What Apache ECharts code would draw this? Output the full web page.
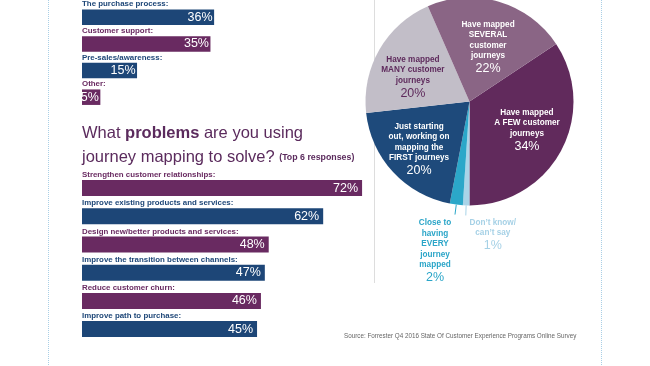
<!DOCTYPE html>
<html>
<head>
<meta charset="utf-8">
<script src="https://cdn.jsdelivr.net/npm/echarts@6/dist/echarts.min.js"></script>
<style>
html,body{margin:0;padding:0;background:#fff;}
#c{width:650px;height:366px;}
</style>
</head>
<body>
<div id="c"></div>
<script>
// ---- data ----
var topCategories = ['The purchase process:', 'Customer support:', 'Pre-sales/awareness:', 'Other:'];
var topValues = [36, 35, 15, 5];
var problemCategories = ['Strengthen customer relationships:', 'Improve existing products and services:', 'Design new/better products and services:', 'Improve the transition between channels:', 'Reduce customer churn:', 'Improve path to purchase:'];
var problemValues = [72, 62, 48, 47, 46, 45];
var pieNames = ['Have mapped\nA FEW customer\njourneys', 'Don\u2019t know/\ncan\u2019t say', 'Close to\nhaving\nEVERY\njourney\nmapped', 'Just starting\nout, working on\nmapping the\nFIRST journeys', 'Have mapped\nMANY customer\njourneys', 'Have mapped\nSEVERAL\ncustomer\njourneys'];
var pieValues = [34, 1, 2, 20, 20, 22];
var titleLine1 = ['What ', 'problems', ' are you using'];
var titleLine2 = ['journey mapping to solve? ', '(Top 6 responses)'];
var sourceText = 'Source: Forrester Q4 2016 State Of Customer Experience Programs Online Survey';

// ---- styles ----
var NAVY = '#1d4677', PURPLE = '#692a61';
var FONT = "'Liberation Sans',Arial,sans-serif";
var pieColors = ['#612a5c', '#a9d4e8', '#2ba7c9', '#1e4a7b', '#c2bec8', '#8a6585'];
var pieTextColors = ['#ffffff', '#a6d1e6', '#2aa5c8', '#ffffff', '#5e2a5c', '#ffffff'];
var pieOutside = [false, true, true, false, false, false];
var pieLabelOffsets = [[9, 3], [27, 2], [-20, 3], [-10, 11], [-9, 3.5], [3, -1]];

function barColor(startNavy) {
  return function (p) { return (p.dataIndex % 2 === 0) === startNavy ? NAVY : PURPLE; };
}
function labelColor(startNavy) {
  return function (v, i) { return (i % 2 === 0) === startNavy ? NAVY : PURPLE; };
}

var pieData = pieNames.map(function (n, i) {
  var d = {
    name: n, value: pieValues[i],
    itemStyle: { color: pieColors[i] },
    label: { color: pieTextColors[i] }
  };
  if (pieOutside[i]) {
    d.label.position = 'outside';
    d.labelLine = { show: true, length: 10, length2: 0, lineStyle: { color: pieColors[i], width: 1 } };
  }
  return d;
});

var chart = echarts.init(document.getElementById('c'), null, { renderer: 'canvas' });
chart.setOption({
  animation: false,
  backgroundColor: '#ffffff',
  title: [{
    left: 82, top: 121.5, padding: 0,
    text: '{a|' + titleLine1[0] + '}{b|' + titleLine1[1] + '}{a|' + titleLine1[2] + '}\n{a|' + titleLine2[0] + '}{s|' + titleLine2[1] + '}',
    textStyle: {
      fontWeight: 'normal',
      rich: {
        a: { fontFamily: FONT, fontSize: 16.5, fontWeight: 'normal', color: '#5b2b5d', lineHeight: 24 },
        b: { fontFamily: FONT, fontSize: 16.5, fontWeight: 'bold', color: '#5b2b5d', lineHeight: 24 },
        s: { fontFamily: FONT, fontSize: 8.8, fontWeight: 'bold', color: '#5b2b5d', lineHeight: 24, verticalAlign: 'middle' }
      }
    }
  }, {
    left: 344, top: 333, padding: 0,
    text: sourceText,
    textStyle: { fontFamily: FONT, fontSize: 6.3, fontWeight: 'normal', color: '#666666' }
  }],
  graphic: [
    { type: 'line', shape: { x1: 48.5, y1: 0, x2: 48.5, y2: 366 }, style: { stroke: '#a9cfe6', lineWidth: 1, lineDash: [1, 1] }, silent: true },
    { type: 'line', shape: { x1: 601.5, y1: 0, x2: 601.5, y2: 366 }, style: { stroke: '#a9cfe6', lineWidth: 1, lineDash: [1, 1] }, silent: true },
    { type: 'line', shape: { x1: 374.5, y1: 0, x2: 374.5, y2: 283 }, style: { stroke: '#dddddd', lineWidth: 1 }, silent: true }
  ],
  grid: [
    { left: 82, top: -1.5, width: 367, height: 112 },
    { left: 82, top: 174, width: 389, height: 169.2 }
  ],
  xAxis: [
    { gridIndex: 0, type: 'value', min: 0, max: 100, show: false },
    { gridIndex: 1, type: 'value', min: 0, max: 100, show: false }
  ],
  yAxis: [0, 1].map(function (g) {
    return {
      gridIndex: g, type: 'category', inverse: true,
      data: g === 0 ? topCategories : problemCategories,
      axisLine: { show: false }, axisTick: { show: false }, splitLine: { show: false },
      axisLabel: {
        inside: true, margin: 0, verticalAlign: 'bottom', padding: [0, 0, 8, 0],
        fontFamily: FONT, fontSize: 7.9, fontWeight: 'bold', lineHeight: 10,
        color: labelColor(g === 0)
      },
      z: 5
    };
  }),
  series: [
    {
      type: 'bar', xAxisIndex: 0, yAxisIndex: 0, data: topValues, barWidth: 15.5,
      itemStyle: { color: barColor(true) },
      label: { show: true, position: 'insideRight', distance: 1.5, formatter: '{c}%', color: '#fff', fontFamily: FONT, fontSize: 12.5 }
    },
    {
      type: 'bar', xAxisIndex: 1, yAxisIndex: 1, data: problemValues, barWidth: 16,
      itemStyle: { color: barColor(false) },
      label: { show: true, position: 'insideRight', distance: 4, formatter: '{c}%', color: '#fff', fontFamily: FONT, fontSize: 12.5 }
    },
    {
      type: 'pie', center: [469.5, 101.5], radius: [0, 104], startAngle: 33.6, clockwise: true,
      avoidLabelOverlap: false,
      data: pieData,
      label: {
        show: true, position: 'inside',
        formatter: function (p) { return '{t|' + p.name + '}\n{p|' + p.value + '%}'; },
        rich: {
          t: { fontFamily: FONT, fontSize: 8.2, fontWeight: 'bold', lineHeight: 10.5, align: 'center' },
          p: { fontFamily: FONT, fontSize: 12.5, lineHeight: 15, align: 'center' }
        }
      },
      labelLine: { show: false },
      labelLayout: function (p) {
        var o = pieLabelOffsets[p.dataIndex];
        var r = p.labelRect;
        if (p.labelLinePoints && pieOutside[p.dataIndex]) {
          var e = p.labelLinePoints[p.labelLinePoints.length - 1];
          return { x: e[0] + o[0], y: e[1] + o[1], align: 'center', verticalAlign: 'top', labelLinePoints: p.labelLinePoints };
        }
        return { x: r.x + r.width / 2 + o[0], y: r.y + r.height / 2 + o[1], align: 'center', verticalAlign: 'middle' };
      }
    }
  ]
});
</script>
</body>
</html>
